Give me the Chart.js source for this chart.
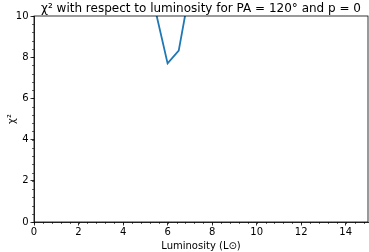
<!DOCTYPE html>
<html>
<head>
<meta charset="utf-8">
<script src="https://cdn.jsdelivr.net/npm/chart.js@4"></script>
<style>
  html, body { margin: 0; padding: 0; background: #fff; }
  #wrap { width: 369px; height: 252px; }
</style>
</head>
<body>
<div id="wrap"><canvas id="chart" width="369" height="252"></canvas></div>
<script>
// Data
const luminosity = [5.0, 5.5, 6.0, 6.5, 7.0, 7.5];
const chiSquared = [14.5, 10.05, 7.7, 8.32, 11.3, 15.0];
const xTicks = [0, 2, 4, 6, 8, 10, 12, 14];
const yTicks = [0, 2, 4, 6, 8, 10];

const FONT = "'DejaVu Sans', sans-serif";
const MINOR = 0.4;

// frame, minor ticks and title centred on the axes
const framePlugin = {
    id: 'frame',
    afterDraw(chart) {
        const { ctx, chartArea: a, scales } = chart;
        ctx.save();
        ctx.strokeStyle = '#000';
        ctx.lineWidth = 0.8;
        ctx.strokeRect(a.left, a.top, a.right - a.left, a.bottom - a.top);

        // minor ticks
        ctx.lineWidth = 0.6;
        ctx.beginPath();
        for (let v = 0; v <= 15.0001; v += MINOR) {
            const x = Math.round(scales.x.getPixelForValue(v)) + 0.5;
            ctx.moveTo(x, a.bottom);
            ctx.lineTo(x, a.bottom + 2);
        }
        for (let v = 0; v <= 10.0001; v += MINOR) {
            const y = Math.round(scales.y.getPixelForValue(v)) + 0.5;
            ctx.moveTo(a.left, y);
            ctx.lineTo(a.left - 2, y);
        }
        ctx.stroke();

        ctx.fillStyle = '#000';
        ctx.font = '12px ' + FONT;
        ctx.textAlign = 'center';
        ctx.textBaseline = 'alphabetic';
        ctx.fillText('χ² with respect to luminosity for PA = 120° and p = 0', (a.left + a.right) / 2, a.top - 4);
        ctx.restore();
    }
};

new Chart(document.getElementById('chart'), {
    type: 'line',
    data: {
        labels: luminosity,
        datasets: [{
            data: luminosity.map((l, i) => ({ x: l, y: chiSquared[i] })),
            borderColor: '#1f77b4',
            borderWidth: 1.8,
            pointRadius: 0,
            fill: false,
            tension: 0,
            clip: 0
        }]
    },
    options: {
        responsive: false,
        animation: false,
        layout: { padding: { top: 16, right: 1, left: 0, bottom: 0 } },
        plugins: { legend: { display: false }, tooltip: { enabled: false } },
        scales: {
            x: {
                type: 'linear',
                min: 0,
                max: 15,
                afterBuildTicks: s => { s.ticks = xTicks.map(v => ({ value: v })); },
                afterFit: s => { s.height = 30; },
                grid: { drawOnChartArea: false, drawTicks: true, tickLength: 3.5, tickColor: '#000', tickWidth: 0.8 },
                border: { display: true, color: '#000', width: 0.8 },
                ticks: { color: '#000', font: { family: FONT, size: 10 }, padding: 1, maxRotation: 0 },
                title: { display: true, text: 'Luminosity (L⊙)', color: '#000', font: { family: FONT, size: 10 }, padding: { top: 0, bottom: 0 } }
            },
            y: {
                type: 'linear',
                min: 0,
                max: 10,
                afterBuildTicks: s => { s.ticks = yTicks.map(v => ({ value: v })); },
                afterFit: s => { s.width = 34; },
                grid: { drawOnChartArea: false, drawTicks: true, tickLength: 3.5, tickColor: '#000', tickWidth: 0.8 },
                border: { display: true, color: '#000', width: 0.8 },
                ticks: { color: '#000', font: { family: FONT, size: 10 }, padding: 2 },
                title: { display: true, text: 'χ²', color: '#000', font: { family: FONT, size: 10 }, padding: { top: 6, bottom: 0 } }
            }
        }
    },
    plugins: [framePlugin]
});
</script>
</body>
</html>
